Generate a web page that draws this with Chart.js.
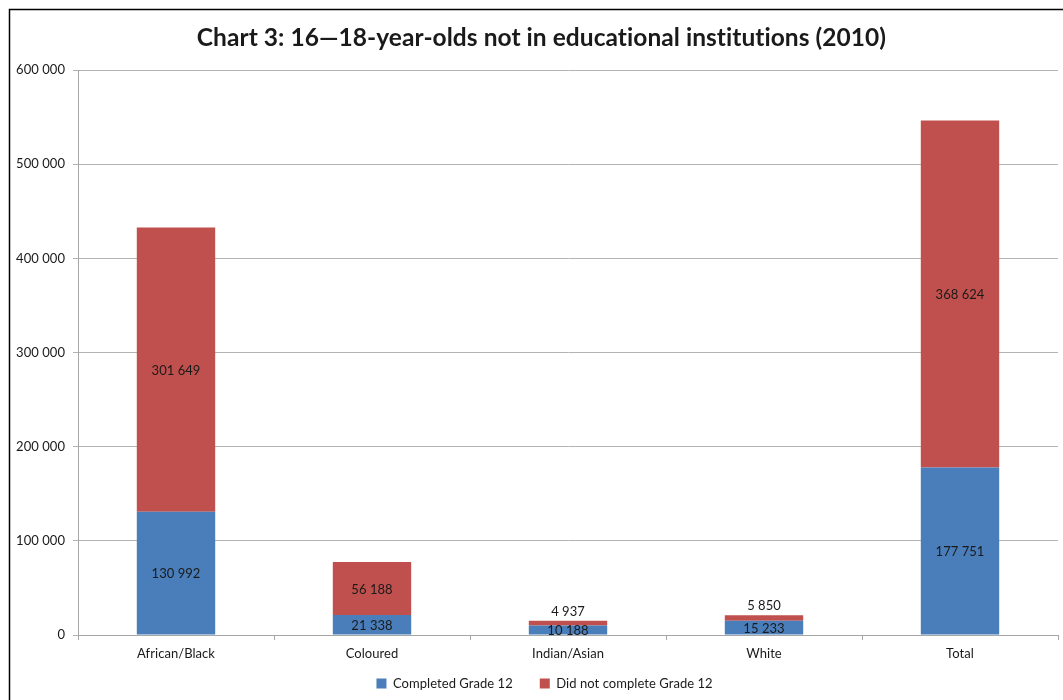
<!DOCTYPE html>
<html>
<head>
<meta charset="utf-8">
<script src="https://cdn.jsdelivr.net/npm/chart.js@4/dist/chart.umd.min.js"></script>
<style>
  html, body { margin: 0; padding: 0; background: #fff; }
  #wrap { width: 1063px; height: 700px; position: relative; }
</style>
</head>
<body>
<div id="wrap"><canvas id="c" width="1063" height="700"></canvas></div>
<script>
const categories = ['African/Black', 'Coloured', 'Indian/Asian', 'White', 'Total'];
const completedGrade12 = [130992, 21338, 10188, 15233, 177751];
const didNotComplete = [301649, 56188, 4937, 5850, 368624];
const yTicks = [0, 100000, 200000, 300000, 400000, 500000, 600000];
const seriesNames = ['Completed Grade 12', 'Did not complete Grade 12'];

const FONT = 'Lato, "Liberation Sans", sans-serif';

function fmt(v) {
  return String(v).replace(/\B(?=(\d{3})+(?!\d))/g, ' ');
}

const framePlugin = {
  id: 'frame',
  afterLayout(chart) {
    if (chart.titleBlock) { chart.titleBlock.left += 7.5; chart.titleBlock.right += 7.5; }
    if (chart.legend) {
      chart.legend.top -= 12;
      chart.legend.left += 9.5; chart.legend.right += 9.5;
    }
  },
  beforeDraw(chart) {
    try { chart.ctx.letterSpacing = '0.05px'; } catch (e) {}
  },
  afterDraw(chart) {
    const ctx = chart.ctx;
    ctx.save();
    ctx.strokeStyle = '#000';
    ctx.lineWidth = 1.5;
    ctx.strokeRect(9.5, 9.5, 1100, 750);
    ctx.restore();
  }
};

const labelPlugin = {
  id: 'barLabels',
  afterDatasetsDraw(chart) {
    const ctx = chart.ctx;
    ctx.save();
    ctx.font = '13px ' + FONT;
    ctx.fillStyle = '#1a1a1a';
    ctx.textAlign = 'center';
    ctx.textBaseline = 'middle';
    chart.data.datasets.forEach((ds, di) => {
      const meta = chart.getDatasetMeta(di);
      meta.data.forEach((bar, i) => {
        const p = bar.getProps(['x', 'y', 'base'], true);
        const top = Math.min(p.y, p.base), bottom = Math.max(p.y, p.base);
        const h = bottom - top;
        let y = (top + bottom) / 2 + 1;
        if (di === 1 && h < 14) y = top - 9;
        ctx.fillText(fmt(ds.data[i]), p.x, y);
      });
    });
    ctx.restore();
  }
};

new Chart(document.getElementById('c'), {
  type: 'bar',
  data: {
    labels: categories,
    datasets: [
      { label: seriesNames[0], data: completedGrade12, backgroundColor: '#4a7ebb', borderWidth: 0 },
      { label: seriesNames[1], data: didNotComplete, backgroundColor: '#c0504d', borderWidth: 0 }
    ]
  },
  options: {
    responsive: false,
    animation: false,
    devicePixelRatio: 1,
    layout: { padding: { left: 10, right: 5, top: 0, bottom: 0 } },
    datasets: { bar: { categoryPercentage: 1.0, barPercentage: 0.4 } },
    scales: {
      x: {
        stacked: true,
        grid: { display: true, drawOnChartArea: false, drawTicks: true, tickLength: 5, offset: true, color: '#a6a6a6' },
        border: { display: true, color: '#a6a6a6' },
        ticks: { font: { family: FONT, size: 13 }, color: '#1a1a1a', padding: 6, maxRotation: 0 },
        afterFit(scale) { scale.height = 27; }
      },
      y: {
        stacked: true,
        min: 0, max: 600000,
        afterBuildTicks(scale) { scale.ticks = yTicks.map(v => ({ value: v })); },
        grid: { color: '#b3b3b3', tickLength: 5 },
        border: { display: true, color: '#a6a6a6' },
        ticks: { font: { family: FONT, size: 13 }, color: '#1a1a1a', padding: 8, callback: v => fmt(v) },
        afterFit(scale) { scale.width = 68; }
      }
    },
    plugins: {
      title: {
        display: true,
        text: 'Chart 3: 16\u201418-year-olds not in educational institutions (2010)',
        font: { family: FONT, size: 24.5, weight: 'bold', lineHeight: 1.2 },
        color: '#1a1a1a',
        padding: { top: 23, bottom: 17.6 }
      },
      legend: {
        position: 'bottom',
        maxHeight: 38,
        labels: { font: { family: FONT, size: 13 }, color: '#1a1a1a', boxWidth: 10, boxHeight: 10, padding: 27 }
      },
      tooltip: { enabled: false }
    }
  },
  plugins: [framePlugin, labelPlugin]
});
</script>
</body>
</html>
